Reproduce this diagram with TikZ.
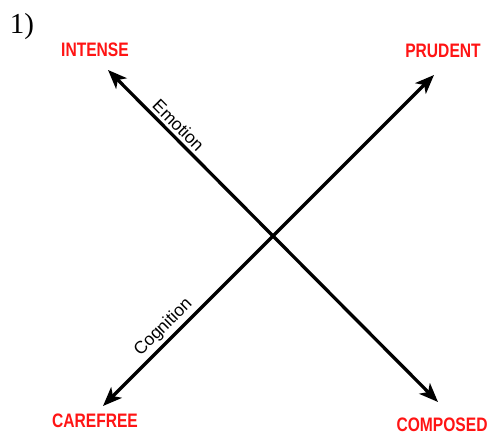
\documentclass[tikz,border=0pt]{standalone}
\usepackage{fontspec}
\setmainfont{Liberation Serif}
\newfontfamily\lblfont[FakeStretch=0.8]{Liberation Sans}
\newfontfamily\axfont{Liberation Sans}
\usetikzlibrary{arrows.meta}
\definecolor{lblred}{RGB}{255,20,20}
\begin{document}
\begin{tikzpicture}[x=1pt,y=-1pt,
  pole/.style={font=\lblfont\bfseries\fontsize{19.5}{20}\selectfont, text=lblred, inner sep=0pt},
  axis/.style={line width=3.3pt, {Stealth[length=19pt,width=15pt,inset=5pt]}-{Stealth[length=19pt,width=15pt,inset=5pt]}},
  axlabel/.style={font=\axfont\fontsize{17.5}{19}\selectfont, sloped, above, inner sep=3pt}]
\useasboundingbox (0,0) rectangle (489,435);
\node[font=\fontsize{29}{30}\selectfont, inner sep=0pt] (num) at (22,27) {1)};
\node[pole] (intense) at (95,50) {INTENSE};
\node[pole] (prudent) at (443,51) {PRUDENT};
\node[pole] (carefree) at (95,421) {CAREFREE};
\node[pole] (composed) at (442,425) {COMPOSED};
\coordinate (e1) at (438,402);
\coordinate (e2) at (108,70);
\coordinate (c1) at (434,75);
\coordinate (c2) at (103,406);
\draw[axis] (e2) -- (e1) node[axlabel, pos=0.19] (emo) {Emotion};
\draw[axis] (c2) -- (c1) node[axlabel, pos=0.21] (cog) {Cognition};
\end{tikzpicture}
\end{document}
